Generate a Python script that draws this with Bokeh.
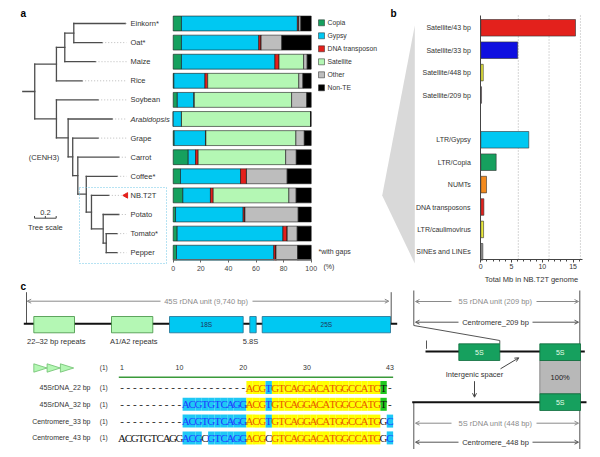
import math
from bokeh.plotting import figure
from bokeh.models import Range1d, FixedTicker, ColumnDataSource, Arrow, OpenHead, LinearAxis
from bokeh.embed import file_html
from bokeh.resources import INLINE
from bokeh.core.properties import value

# ================= DATA =================
# panel a: repeat composition (% of genome)
species = ["Einkorn*", "Oat*", "Maize", "Rice", "Soybean", "Arabidopsis", "Grape",
           "Carrot", "Coffee*", "NB.T2T", "Potato", "Tomato*", "Pepper"]
italic_species = ["Arabidopsis"]
highlight_species = "NB.T2T"
te_classes = ["Copia", "Gypsy", "DNA transposon", "Satellite", "Other", "Non-TE"]
copia     = [6.0, 6.0, 6.0, 0.5, 3.0, 0.0, 0.7, 10.9, 5.3, 7.0, 1.7, 2.9, 2.4]
gypsy     = [84.0, 56.0, 67.7, 22.5, 12.0, 6.0, 22.7, 5.3, 43.5, 20.0, 49.0, 76.6, 70.5]
dna_tp    = [1.0, 1.7, 3.0, 2.0, 0.3, 0.0, 0.3, 1.9, 4.3, 2.0, 1.3, 3.1, 1.6]
satellite = [0.0, 0.0, 17.8, 66.0, 70.5, 93.5, 65.2, 63.4, 0.0, 54.8, 0.0, 0.0, 0.0]
other     = [1.5, 15.0, 2.6, 3.0, 11.0, 0.0, 6.1, 7.7, 29.5, 5.3, 38.6, 7.3, 15.7]
non_te    = [7.5, 21.3, 2.9, 6.0, 3.2, 0.5, 5.0, 10.8, 17.4, 10.9, 9.4, 10.1, 9.8]
pct_ticks = [0, 20, 40, 60, 80, 100]

# CENH3 tree: leaf tip depths (tree units) and internal nodes (name, depth, children)
leaf_depth = [0.946, 0.732, 0.670, 0.547, 0.695, 0.824, 0.695, 0.885, 0.870, 0.793, 0.885, 0.870, 0.870]
tree_nodes = [
    ("root", 0.110, ("mono", "eu")),
    ("mono", 0.310, ("eom", 3)),
    ("eom", 0.387, ("eo", 2)),
    ("eo", 0.470, (0, 1)),
    ("eu", 0.310, (4, "ar")),
    ("ar", 0.418, (5, "gr")),
    ("gr", 0.460, (6, "car")),
    ("car", 0.507, (7, "cof")),
    ("cof", 0.585, (8, "nbn")),
    ("nbn", 0.633, (9, "ptp")),
    ("ptp", 0.741, (10, "tp")),
    ("tp", 0.769, (11, 12)),
]
tree_scale = 0.2

# panel b: total Mb in NB.T2T genome
b_categories = ["Satellite/43 bp", "Satellite/33 bp", "Satellite/448 bp", "Satellite/209 bp",
                "LTR/Gypsy", "LTR/Copia", "NUMTs", "DNA transposons", "LTR/caulimovirus",
                "SINEs and LINEs"]
b_groups = ["Satellite"] * 4 + ["Other"] * 6
b_mb = [15.4, 6.0, 0.4, 0.12, 7.8, 2.5, 0.93, 0.5, 0.45, 0.33]
b_ticks = [0, 5, 10, 15]
b_grid = [6.1, 11.1, 16.2]

# panel c: alignment of repeat monomers
aln_names = ["45SrDNA_22 bp", "45SrDNA_32 bp", "Centromere_33 bp", "Centromere_43 bp"]
aln_seqs = [
    "-" * 20 + "ACG" + "T" + "GTCAGGACATGGCCATG" + "T" + "-",
    "-" * 10 + "ACGTGTCAGG" + "ACG" + "T" + "GTCAGGACATGGCCATG" + "T" + "-",
    "-" * 10 + "ACGTGTCAGG" + "ACG" + "T" + "GTCAGGACATGGCCATG" + "G" + "C",
    "ACGTGTCAGG" + "ACG" + "C" + "GTCAGG" + "ACG" + "C" + "GTCAGGACATGGCCATG" + "G" + "C",
]
# y = identical, b = similar, g = conserved, . = none
aln_marks = [
    "." * 20 + "yyy" + "b" + "y" * 17 + "g" + ".",
    "." * 10 + "b" * 10 + "yyy" + "b" + "y" * 17 + "g" + ".",
    "." * 10 + "b" * 10 + "yyy" + "b" + "y" * 17 + "." + "b",
    "." * 10 + "bbb" + "." + "b" * 6 + "yyy" + "." + "y" * 17 + "." + "b",
]
ruler_positions = [1, 10, 20, 30, 43]

# ================= STYLE =================
SANS = value("Liberation Sans")
SERIF = value("Liberation Serif")
A_COLORS = ["#16a05e", "#00c8f2", "#e3201b", "#b4f7b4", "#bdbdbd", "#000000"]
B_COLORS = ["#e3211c", "#1010e0", "#e8e83a", "#d0a8b8", "#00c8f2", "#16a05e",
            "#f28a1e", "#e3211c", "#e8e83a", "#9a9a9a"]
MARK_BG = {"y": "#ffff00", "b": "#1ec8f5", "g": "#1ec81e"}
MARK_FG = {"y": "#e85a00", "b": "#1f3cff", "g": "#111111", ".": "#111111"}
TXT = "#333333"
GRAY_T = "#8a8a8a"

W, H = 592, 449
FX0, FX1, FY0, FY1 = 0, 592, 0, 449

p = figure(width=W, height=H, x_range=Range1d(FX0, FX1), y_range=Range1d(FY1, FY0),
           toolbar_location=None, output_backend="svg",
           x_axis_location=None, y_axis_location=None, min_border=0)
p.outline_line_color = None
p.background_fill_color = "white"
p.border_fill_color = "white"
p.xgrid.visible = False
p.ygrid.visible = False


def xr(o, s):
    return Range1d((FX0 - o) / s, (FX1 - o) / s)


def yr(o, s):
    return Range1d((FY1 - o) / s, (FY0 - o) / s)


PA_O, PA_S = 172.7, 1.38
ROW_O, ROW_S = 23.0, 19.1
TR_O, TR_S = 22.3, 108.5
PB_O, PB_S = 480.3, 6.15
PBY_O, PBY_S = 27.3, 22.4
SQ_S = 6.38
SQ_O = 118.3 - SQ_S / 2
SQY_O, SQY_S = 387.0, 16.8

p.extra_x_ranges = {"pa": xr(PA_O, PA_S), "tree": xr(TR_O, TR_S),
                    "pb": xr(PB_O, PB_S), "seq": xr(SQ_O, SQ_S)}
p.extra_y_ranges = {"rows": yr(ROW_O, ROW_S), "pb": yr(PBY_O, PBY_S), "seq": yr(SQY_O, SQY_S)}


def txt(x, y, t, size="7.5px", color=TXT, align="left", baseline="middle", style="normal",
        xn="default", yn="default", font=SANS):
    if not isinstance(x, list):
        x, y, t = [x], [y], [t]
    p.text(x=x, y=y, text=t, text_font=font, text_font_size=size, text_color=color,
           text_align=align, text_baseline=baseline, text_font_style=style,
           x_range_name=xn, y_range_name=yn)


def arrow(x0, y0, x1, y1, color="#777777"):
    p.add_layout(Arrow(end=OpenHead(size=4, line_color=color, line_width=1),
                       x_start=x0, y_start=y0, x_end=x1, y_end=y1,
                       line_color=color, line_width=1))


# ================= PANEL A =================
n = len(species)
rows = list(range(n))
keys = ["copia", "gypsy", "dna", "sat", "other", "nonte"]
src = ColumnDataSource(dict(row=rows, copia=copia, gypsy=gypsy, dna=dna_tp, sat=satellite,
                            other=other, nonte=non_te))
p.hbar_stack(keys, y="row", height=0.78, color=A_COLORS, source=src,
             line_color="#1a1a1a", line_width=0.6, x_range_name="pa", y_range_name="rows")

axa = LinearAxis(x_range_name="pa", fixed_location=259, bounds=(0, 100),
                 ticker=FixedTicker(ticks=pct_ticks))
axa.axis_line_color = "#666666"
axa.major_tick_line_color = "#666666"
axa.major_tick_out = 3
axa.major_tick_in = 0
axa.minor_tick_line_color = None
axa.major_label_text_font = "Liberation Sans"
axa.major_label_text_font_size = "7px"
axa.major_label_text_color = "#444444"
axa.major_label_standoff = 3
p.add_layout(axa, "below")

# tree
node_map = {nm: (d, ch) for nm, d, ch in tree_nodes}


def ypos(nd):
    if isinstance(nd, int):
        return float(nd)
    ch = node_map[nd][1]
    return sum(ypos(c) for c in ch) / len(ch)


def depth(nd):
    return leaf_depth[nd] if isinstance(nd, int) else node_map[nd][0]


tx0, ty0, tx1, ty1 = [], [], [], []
root = tree_nodes[0][0]
tx0.append(0.0); ty0.append(ypos(root)); tx1.append(depth(root)); ty1.append(ypos(root))
for nm, d, ch in tree_nodes:
    ys = [ypos(c) for c in ch]
    tx0.append(d); ty0.append(min(ys)); tx1.append(d); ty1.append(max(ys))
    for c in ch:
        tx0.append(d); ty0.append(ypos(c)); tx1.append(depth(c)); ty1.append(ypos(c))
p.segment(tx0, ty0, tx1, ty1, x_range_name="tree", y_range_name="rows",
          line_color="#4d4d4d", line_width=1.3, line_cap="square")

hi = species.index(highlight_species)
lead_end = [(121 - TR_O) / TR_S if i == hi else (126 - TR_O) / TR_S for i in rows]
p.segment(leaf_depth, rows, lead_end, rows, x_range_name="tree", y_range_name="rows",
          line_color="#aaaaaa", line_width=0.8, line_dash="1 2")

norm = [i for i in rows if species[i] not in italic_species]
ital = [i for i in rows if species[i] in italic_species]
txt([130] * len(norm), [float(i) for i in norm], [species[i] for i in norm], yn="rows")
txt([130] * len(ital), [float(i) for i in ital], [species[i] for i in ital], yn="rows", style="italic")
p.scatter(x=[125.5], y=[float(hi)], marker="triangle", size=5.5, angle=math.pi / 2,
          fill_color="#e3201b", line_color="#e3201b", y_range_name="rows")

txt(43.5, 157, "(CENH3)", align="center")
sb0 = (34 - TR_O) / TR_S
p.segment([sb0], [217.7], [sb0 + tree_scale], [217.7], x_range_name="tree",
          line_color="#444444", line_width=1)
p.segment([sb0, sb0 + tree_scale / 2, sb0 + tree_scale], [217.7] * 3,
          [sb0, sb0 + tree_scale / 2, sb0 + tree_scale], [215.5] * 3,
          x_range_name="tree", line_color="#444444", line_width=1)
txt(sb0 + tree_scale / 2, 211.5, str(tree_scale), align="center", xn="tree")
txt(sb0 + tree_scale / 2, 226.7, "Tree scale", align="center", xn="tree")

# Solanaceae box
p.quad(left=[79], right=[166], top=[187], bottom=[263], fill_color=None,
       line_color="#6ec6e6", line_dash="1 2", line_width=1)

# legend
leg_y = [22.3 + 13 * i for i in range(len(te_classes))]
p.rect(x=[321] * len(te_classes), y=leg_y, width=6, height=6, fill_color=A_COLORS,
       line_color="#222222", line_width=0.5)
txt([327] * len(te_classes), leg_y, te_classes, size="6.8px")
txt(318, 250.7, "*with gaps", size="7px")
txt(323, 265.7, "(%)", size="7px")

# zoom wedge
p.patch([414.3, 381.7, 414.3], [25, 195, 263], color="#d9d9d9", line_color=None)

# panel letters
for lx, ly, lt in [(20, 13, "a"), (390, 13, "b"), (20, 286, "c")]:
    txt(lx, ly, lt, size="10px", color="#000000", style="bold")

# ================= PANEL B =================
b_slot = []
s = 0
for i, g in enumerate(b_groups):
    if i > 0 and g != b_groups[i - 1]:
        s += 1
    b_slot.append(s)
    s += 1
pb_top = (15 - PBY_O) / PBY_S
pb_bot = (259 - PBY_O) / PBY_S
p.segment(b_grid, [pb_top] * len(b_grid), b_grid, [pb_bot] * len(b_grid),
          x_range_name="pb", y_range_name="pb", line_color="#9a9a9a", line_width=0.8,
          line_dash="1 2")
p.hbar(y=b_slot, left=0, right=b_mb, height=0.74, fill_color=B_COLORS,
       line_color="#333333", line_width=0.6, x_range_name="pb", y_range_name="pb")

ayb = LinearAxis(y_range_name="pb", fixed_location=PB_O, bounds=(pb_top, pb_bot),
                 ticker=FixedTicker(ticks=b_slot),
                 major_label_overrides={sl: c for sl, c in zip(b_slot, b_categories)})
ayb.axis_line_color = "#444444"
ayb.major_tick_line_color = None
ayb.minor_tick_line_color = None
ayb.major_label_text_font = "Liberation Sans"
ayb.major_label_text_font_size = "7px"
ayb.major_label_text_color = TXT
ayb.major_label_standoff = 4
p.add_layout(ayb, "left")

axb = LinearAxis(x_range_name="pb", fixed_location=259, bounds=(0, 16.5),
                 ticker=FixedTicker(ticks=b_ticks, minor_ticks=list(range(0, 17))),
                 axis_label="Total Mb in NB.T2T genome")
axb.axis_line_color = "#444444"
axb.major_tick_line_color = "#444444"
axb.minor_tick_line_color = "#444444"
axb.major_tick_out = 3
axb.major_tick_in = 0
axb.minor_tick_out = 2
axb.minor_tick_in = 0
axb.major_label_text_font = "Liberation Sans"
axb.major_label_text_font_size = "7px"
axb.major_label_text_color = TXT
axb.major_label_standoff = 1
axb.axis_label_text_font = "Liberation Sans"
axb.axis_label_text_font_size = "7.5px"
axb.axis_label_text_font_style = "normal"
axb.axis_label_text_color = TXT
axb.axis_label_standoff = 3
p.add_layout(axb, "below")

# ================= PANEL C (45S) =================
arrow(160, 300.7, 26.7, 300.7, "#8a8a8a")
arrow(252, 300.7, 388.3, 300.7, "#8a8a8a")
txt(205.8, 300.7, "45S rDNA unit (9,740 bp)", color=GRAY_T, align="center")
p.segment([26, 390.7], [291.7, 291.7], [26, 390.7], [323.3, 323.3], line_color="#555555", line_width=1)
p.segment([23.3], [323.3], [396.7], [323.3], line_color="#111111", line_width=2)
p.quad(left=[33.3, 111], right=[74, 152.3], top=[316, 316], bottom=[332.3, 332.3],
       fill_color="#b4f7b4", line_color="#3f8f3f", line_width=0.8)
p.quad(left=[169, 249.3, 261.7], right=[242.7, 255.7, 390], top=[316] * 3, bottom=[332.3] * 3,
       fill_color="#00c8f2", line_color="#1f6f8f", line_width=0.8)
txt([205.8, 325.8], [324.2, 324.2], ["18S", "25S"], size="6.5px", color="#1d3557", align="center")
txt([55.8, 133.3, 250], [341, 341, 341], ["22–32 bp repeats", "A1/A2 repeats", "5.8S"], align="center")

# alignment
p.patches(xs=[[33.3, 33.3, 46.6], [46.6, 46.6, 59.9], [59.9, 59.9, 73.2]],
          ys=[[363.3, 371.7, 367.5]] * 3, fill_color="#b4f7b4", line_color="#6dbf6d", line_width=0.8)
txt(103.3, 366.7, "(1)", size="6.5px", align="center")
txt(ruler_positions, [366.7] * len(ruler_positions), [str(v) for v in ruler_positions],
    size="7px", align="center", xn="seq")
p.segment([0.5], [376.7], [43.5], [376.7], x_range_name="seq", line_color="#3a9a3a", line_width=1.5)

bx, by, bc = [], [], []
cx, cy, ct, cc = [], [], [], []
for r, (seq, mk) in enumerate(zip(aln_seqs, aln_marks)):
    for c, (ch, m) in enumerate(zip(seq, mk), start=1):
        if m in MARK_BG:
            bx.append(c); by.append(r); bc.append(MARK_BG[m])
        cx.append(c); cy.append(r); ct.append(ch); cc.append(MARK_FG[m])
p.rect(x=bx, y=by, width=1, height=0.774, fill_color=bc, line_color=None,
       x_range_name="seq", y_range_name="seq")
p.text(x=cx, y=cy, text=ct, text_color=cc, text_font=SERIF, text_font_size="11px",
       text_align="center", text_baseline="middle", x_range_name="seq", y_range_name="seq")
txt([90] * len(aln_names), list(range(len(aln_names))), aln_names, size="7px",
    align="right", yn="seq")
txt([103.3] * len(aln_names), list(range(len(aln_names))), ["(1)"] * len(aln_names),
    size="6.5px", align="center", yn="seq")

# ================= PANEL C (5S) =================
p.segment([413.3, 579.3, 413.3], [290, 290, 401.7], [413.3, 579.3, 413.3], [325, 449, 449],
          line_color="#555555", line_width=1)
p.segment([413.3, 499.3, 426], [325, 340, 340], [499.3, 499.3, 426], [340, 343.3, 348.3],
          line_color="#555555", line_width=1)
for yy, label, col, gl, gr in [(301, "5S rDNA unit (209 bp)", GRAY_T, 451, 536),
                               (321.7, "Centromere_209 bp", TXT, 458, 532),
                               (422.7, "5S rDNA unit (448 bp)", GRAY_T, 451, 536),
                               (441.7, "Centromere_448 bp", TXT, 458, 532)]:
    arrow(gl, yy, 415, yy, "#8a8a8a" if col == GRAY_T else "#555555")
    arrow(gr, yy, 578, yy, "#8a8a8a" if col == GRAY_T else "#555555")
    txt(495, yy, label, color=col, align="center")
p.segment([425, 411.7], [351, 401.7], [584.3, 586], [351, 401.7], line_color="#111111", line_width=2)
p.quad(left=[539.3], right=[580], top=[360], bottom=[393.3], fill_color="#b8b8b8",
       line_color="#777777", line_width=0.8)
p.quad(left=[458.3, 539.3, 539.3], right=[499.3, 580, 580], top=[343.3, 343.3, 393.3],
       bottom=[360, 360, 410], fill_color="#16a05e", line_color="#0d6b3a", line_width=0.8)
txt([478.8, 559.7, 559.7], [351.7, 351.7, 401.7], ["5S", "5S", "5S"], size="7px",
    color="#e8ffe8", align="center")
txt(559.7, 377, "100%", color="#222222", align="center")
txt(474, 374.3, "Intergenic spacer", align="center")
arrow(500, 368.3, 518.3, 357.3, "#444444")
arrow(474, 380.7, 474, 396.7, "#444444")

open("out.html", "w").write(file_html(p, INLINE))
